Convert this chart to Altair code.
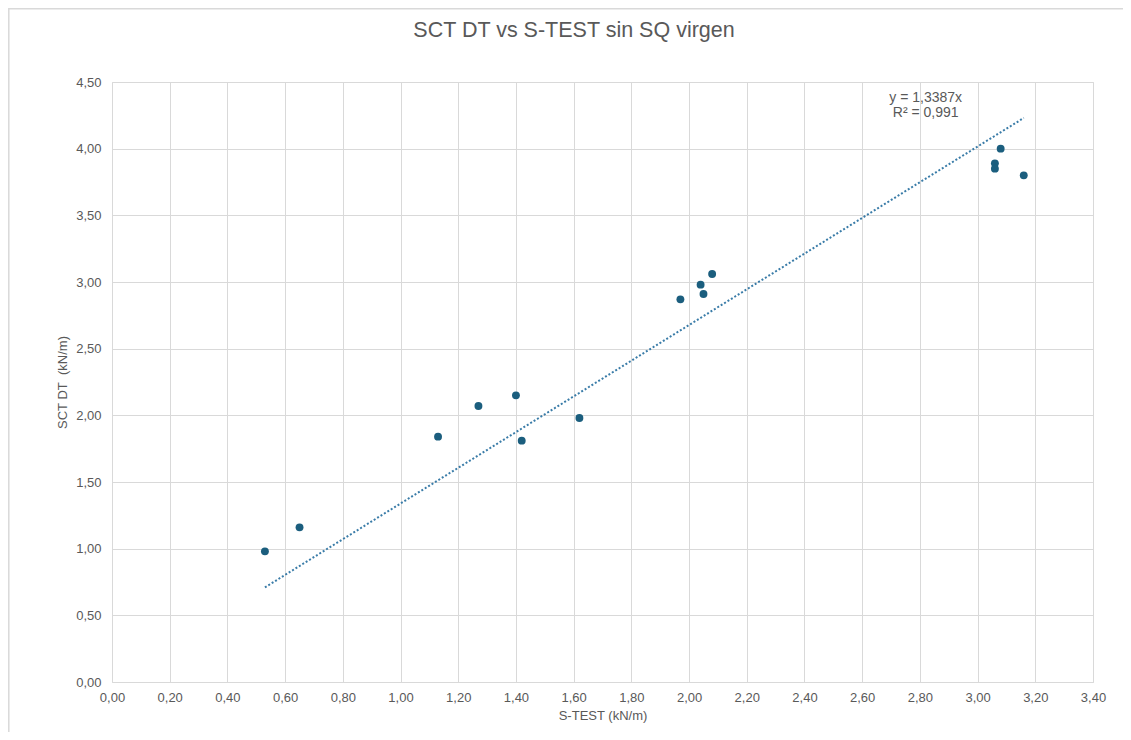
import altair as alt
import pandas as pd

# Data
s_test = [0.53, 0.65, 1.13, 1.27, 1.40, 1.42, 1.62, 1.97, 2.04, 2.05, 2.08, 3.08, 3.06, 3.06, 3.16]
sct_dt = [0.98, 1.16, 1.84, 2.07, 2.15, 1.81, 1.98, 2.87, 2.98, 2.91, 3.06, 4.00, 3.89, 3.85, 3.80]

slope = 1.3387
eq_labels = ["y = 1,3387x", "R² = 0,991"]
eq_x = [2.82, 2.82]
eq_y = [4.38, 4.265]

x_ticks = [round(i * 0.2, 2) for i in range(18)]
y_ticks = [round(i * 0.5, 2) for i in range(10)]

GREY = "#595959"
FONT = "Liberation Sans"
PT = "#1b5e7e"
LINE = "#3a7ca8"

df = pd.DataFrame({"x": s_test, "y": sct_dt})
xmin, xmax = min(s_test), max(s_test)
trend = pd.DataFrame({"x": [xmin, xmax], "y": [slope * xmin, slope * xmax]})
eq = pd.DataFrame({"x": eq_x, "y": eq_y, "t": eq_labels})

lab = "replace(format(datum.value, '.2f'), '.', ',')"

xs = alt.Scale(domain=[0, 3.4], nice=False, zero=False)
ys = alt.Scale(domain=[0, 4.5], nice=False, zero=False)

xax = alt.Axis(values=x_ticks, labelExpr=lab, title="S-TEST (kN/m)", ticks=False,
               domain=False, grid=True, gridColor="#d9d9d9", labelColor=GREY,
               labelFont=FONT, labelFontSize=13, labelPadding=9, labelFlush=False,
               labelOverlap=False, titleFont=FONT,
               titleFontSize=13, titleFontWeight="normal", titleColor=GREY, titlePadding=5)
yax = alt.Axis(values=y_ticks, labelExpr=lab, title="SCT DT\u00a0 (kN/m)", ticks=False,
               domain=False, grid=True, gridColor="#d9d9d9", labelColor=GREY,
               labelFont=FONT, labelFontSize=13, labelPadding=11, labelFlush=False,
               labelOverlap=False, titleFont=FONT,
               titleFontSize=13, titleFontWeight="normal", titleColor=GREY, titlePadding=6)

border = alt.Chart(pd.DataFrame({"a": [0]})).mark_rect(
    fill=None, stroke="#d9d9d9", strokeWidth=1.5, clip=False
).encode(x=alt.value(-103.2), x2=alt.value(1040), y=alt.value(-73.2), y2=alt.value(680))

points = alt.Chart(df).mark_circle(size=62, color=PT, opacity=1).encode(
    x=alt.X("x:Q", scale=xs, axis=xax),
    y=alt.Y("y:Q", scale=ys, axis=yax),
)

line = alt.Chart(trend).mark_line(color=LINE, strokeDash=[2, 2], strokeWidth=2).encode(
    x=alt.X("x:Q", scale=xs), y=alt.Y("y:Q", scale=ys)
)

eqtext = alt.Chart(eq).mark_text(font=FONT, fontSize=14, color=GREY).encode(
    x=alt.X("x:Q", scale=xs), y=alt.Y("y:Q", scale=ys), text="t:N"
)

title = alt.Chart(pd.DataFrame({"t": ["SCT DT vs S-TEST sin SQ virgen"]})).mark_text(
    font=FONT, fontSize=21.5, color=GREY, clip=False
).encode(x=alt.value(462), y=alt.value(-51), text="t:N")

chart = alt.layer(border, line, points, eqtext, title).properties(
    width=981, height=600,
    padding={"left": 104, "top": 74, "right": 30, "bottom": 50},
    autosize=alt.AutoSizeParams(type="none"),
).configure_view(stroke="#d9d9d9", strokeWidth=1.5).configure(background="white")

chart.save("out.html", embed_options={"renderer": "svg", "actions": False})
